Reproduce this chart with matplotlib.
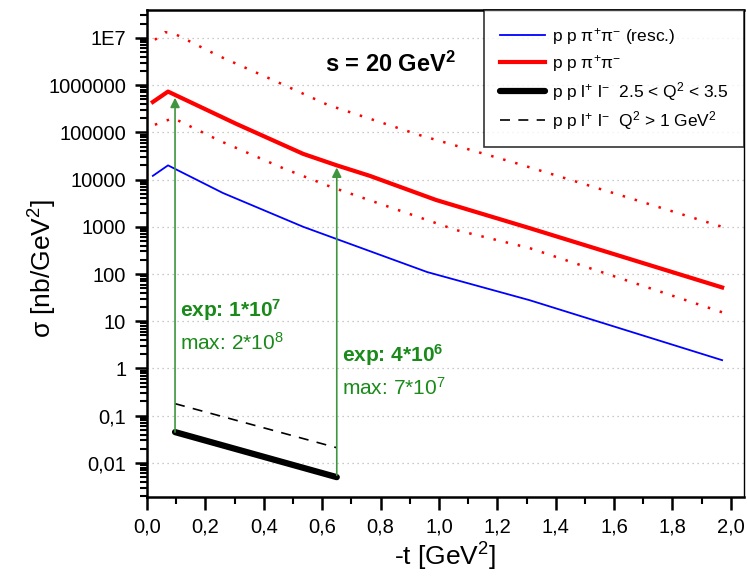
import math
import matplotlib
matplotlib.use("Agg")
import matplotlib.pyplot as plt
from matplotlib.ticker import FixedLocator, FuncFormatter, LogLocator, NullFormatter

plt.rcParams['font.family'] = ['Liberation Sans', 'DejaVu Sans']
plt.rcParams['mathtext.fontset'] = 'custom'
plt.rcParams['mathtext.rm'] = 'Liberation Sans'
plt.rcParams['mathtext.it'] = 'Liberation Sans:italic'
plt.rcParams['mathtext.bf'] = 'Liberation Sans:bold'

# pp pi+ pi- with rescattering (blue)
t_resc = [0.02, 0.072, 0.26, 0.535, 0.65, 0.96, 1.31, 1.97]
s_resc = [1.2e4, 2.0e4, 5.2e3, 1.0e3, 550, 110, 28, 1.5]

# pp pi+ pi- (red solid)
t_pp = [0.02, 0.072, 0.307, 0.535, 0.65, 0.763, 0.99, 1.31, 1.97]
s_pp = [4.4e5, 7.3e5, 1.5e5, 3.5e4, 2.0e4, 1.2e4, 3.7e3, 940, 52]

# upper band (red dotted)
t_up = [0.027, 0.062, 0.09, 0.244, 0.438, 0.62, 0.935, 1.267, 1.62, 1.97]
s_up = [9.1e6, 1.32e7, 1.26e7, 4.2e6, 1.23e6, 3.8e5, 8.7e4, 2.2e4, 4.7e3, 1.0e3]

# lower band (red dotted)
t_lo = [0.027, 0.09, 0.25, 0.47, 0.63, 1.06, 1.31, 1.97]
s_lo = [1.45e5, 2.0e5, 6.6e4, 1.7e4, 7.0e3, 850, 355, 15.5]

# pp l+ l-, 2.5 < Q2 < 3.5 (thick black) and Q2 > 1 (dashed)
t_ll = [0.096, 0.65]
s_ll_narrow = [0.045, 0.005]
s_ll_wide = [0.18, 0.021]

# arrows: (t, from, to)
arrows = [(0.096, 0.045, 5.4e5), (0.65, 0.0055, 1.8e4)]

fig = plt.figure(figsize=(7.47, 5.8), dpi=100)
ax = fig.add_axes([0.1968, 0.1431, 0.7992, 0.8397])

ax.set_yscale('log')
ax.set_xlim(0, 2.045)
ax.set_ylim(1.9e-3, 3.9e7)

ax.plot(t_resc, s_resc, color='blue', lw=1.3, label='p p π$^{+}$π$^{-}$ (resc.)')
ax.plot(t_pp, s_pp, color='red', lw=3, label='p p π$^{+}$π$^{-}$')
ax.plot(t_up, s_up, color='red', lw=1.8, ls=(0, (1, 4)))
ax.plot(t_lo, s_lo, color='red', lw=1.8, ls=(0, (1, 4)))
ax.plot(t_ll, s_ll_narrow, color='black', lw=4.5, solid_capstyle='round',
        label=r'p p l$^{+}$ l$^{-}$  2.5 < Q$^{2}$ < 3.5')
ax.plot(t_ll, s_ll_wide, color='black', lw=1.2, ls=(0, (6, 5)),
        label=r'p p l$^{+}$ l$^{-}$  Q$^{2}$ > 1 GeV$^{2}$')

for t, y0, y1 in arrows:
    ax.annotate('', xy=(t, y1), xytext=(t, y0),
                arrowprops=dict(arrowstyle='-|>', color='#3f963f', lw=1.2,
                                mutation_scale=14, shrinkA=0, shrinkB=0))

green = '#1a8a1a'
ax.text(0.113, 17, r'exp: 1*10$^{\mathbf{7}}$', color=green, fontsize=15,
        fontweight='bold', va='center')
ax.text(0.113, 3.5, r'max: 2*10$^{8}$', color=green, fontsize=15, va='center')
ax.text(0.668, 1.9, r'exp: 4*10$^{\mathbf{6}}$', color=green, fontsize=15,
        fontweight='bold', va='center')
ax.text(0.668, 0.38, r'max: 7*10$^{7}$', color=green, fontsize=15, va='center')

ax.text(0.61, 2.7e6, r's = 20 GeV$^{\mathbf{2}}$', fontsize=17, fontweight='bold',
        va='center')

# axes styling
for side in ['left', 'bottom', 'top', 'right']:
    ax.spines[side].set_linewidth(1.8 if side != 'right' else 1.0)

ax.xaxis.set_major_locator(FixedLocator([0.0, 0.2, 0.4, 0.6, 0.8, 1.0, 1.2, 1.4, 1.6, 1.8, 2.0]))
ax.xaxis.set_minor_locator(FixedLocator([0.1, 0.3, 0.5, 0.7, 0.9, 1.1, 1.3, 1.5, 1.7, 1.9]))
ax.xaxis.set_major_formatter(FuncFormatter(lambda v, p: '{:.1f}'.format(v).replace('.', ',')))

ylabels = {-2: '0,01', -1: '0,1', 0: '1', 1: '10', 2: '100', 3: '1000', 4: '10000',
           5: '100000', 6: '1000000', 7: '1E7'}
ax.yaxis.set_major_locator(FixedLocator([10.0 ** k for k in ylabels]))
ax.yaxis.set_major_formatter(FuncFormatter(
    lambda v, p: ylabels.get(int(round(math.log10(v))), '')))
ax.yaxis.set_minor_locator(LogLocator(base=10, subs=range(2, 10), numticks=30))
ax.yaxis.set_minor_formatter(NullFormatter())

ax.tick_params(which='major', direction='out', length=9, width=1.8, labelsize=14.5, pad=6)
ax.tick_params(which='minor', direction='out', length=5, width=1.5)

ax.grid(True, which='major', axis='y', color='#b8b8b8', lw=0.9, ls=(0, (1, 3)))

ax.set_xlabel('-t [GeV$^{2}$]', fontsize=19, labelpad=3)
ax.set_ylabel('σ [nb/GeV$^{2}$]', fontsize=19)
ax.yaxis.set_label_coords(-0.148, 0.47)

leg = ax.legend(loc='upper right', fontsize=12.5, frameon=True, fancybox=False,
                handlelength=2.6, handletextpad=0.4, labelspacing=0.35,
                borderpad=0.9, borderaxespad=0, edgecolor='black')
leg.get_frame().set_linewidth(1.2)

fig.savefig('out.png', dpi=100)
